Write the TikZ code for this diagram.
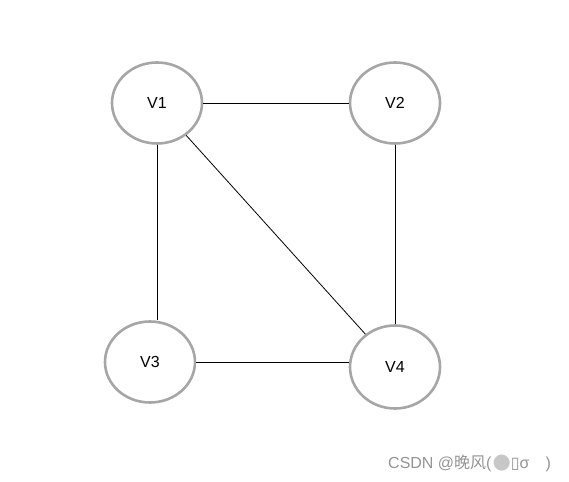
\documentclass[tikz,border=0pt]{standalone}
\usepackage{fontspec}
\setmainfont{Liberation Sans}
\newfontfamily\cjk{Noto Sans CJK SC}
\newfontfamily\dejavu{DejaVu Sans}
\usetikzlibrary{shapes.geometric}
\begin{document}
\begin{tikzpicture}[x=1pt,y=-1pt,
  vert/.style={draw=black!35, line width=2.6pt, ellipse, minimum width=90pt, minimum height=81pt, inner sep=0pt, font=\fontsize{16}{18}\selectfont},
  edge/.style={draw=black, line width=0.8pt}]
\useasboundingbox (0,0) rectangle (569,481);
\node[vert] (v1) at (157,103) {V1};
\node[vert] (v2) at (395,103) {V2};
\node[vert] (v3) at (150,362) {V3};
\node[vert, minimum height=83pt] (v4) at (395,367) {V4};
\draw[edge] (v1.east) -- (v2.west);
\draw[edge] (v1.south) -- (v1.south |- v3.north);
\draw[edge] (v3.east) -- (v3.east -| v4.west);
\draw[edge] (v2.south) -- (v4.north);
\draw[edge] (v1) -- (v4);
\node[anchor=base west, text=black!42, inner sep=0pt, font=\fontsize{16}{18}\selectfont] (wm) at (388,468) {CSDN @{\cjk 晚风}(\hspace{1pt}{\dejavu\fontsize{21}{22}\selectfont\color{black!22}●}{\dejavu ▯}σ\hspace{16pt})};
\end{tikzpicture}
\end{document}
